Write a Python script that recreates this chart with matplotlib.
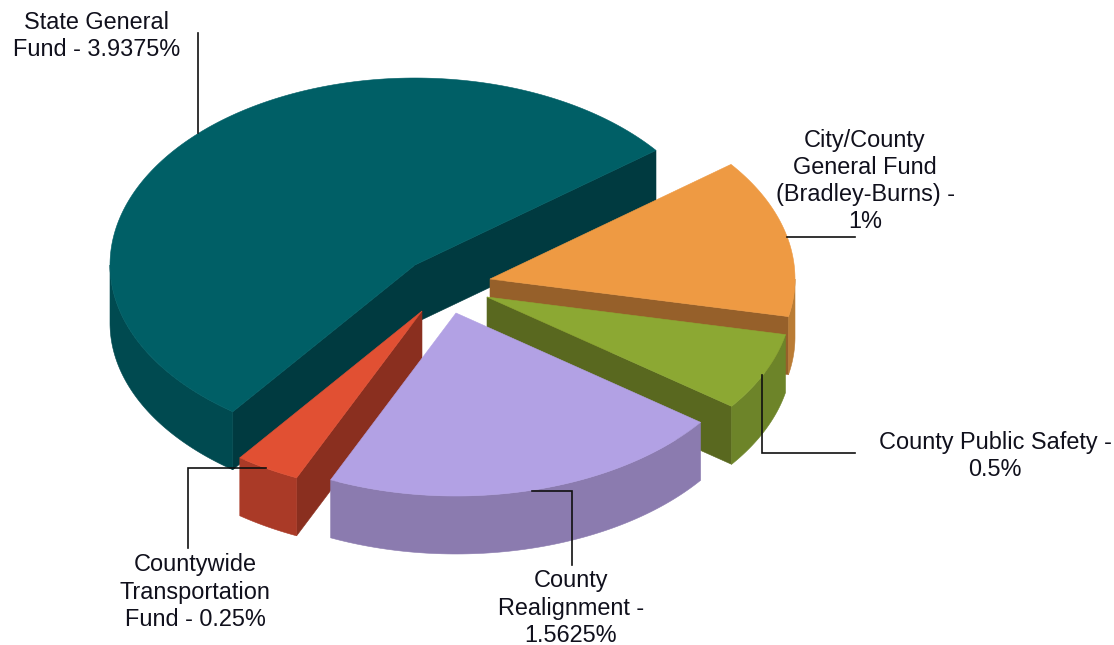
"""
plot.py
Exploded 3D style pie chart, drawn as flat polygons on a pixel sized axes.
"""

import numpy as np
import matplotlib
matplotlib.use("Agg")
import matplotlib.pyplot as plt
from matplotlib.patches import Polygon

NAMES = ["State General Fund", "Countywide Transportation Fund", "County Realignment",
         "County Public Safety", "City/County General Fund (Bradley-Burns)"]
VALUES = [3.9375, 0.25, 1.5625, 0.5, 1.0]

LABELS = ["State General\nFund - 3.9375%",
          "Countywide\nTransportation\nFund - 0.25%",
          "County\nRealignment -\n1.5625%",
          "County Public Safety -\n0.5%",
          "City/County\nGeneral Fund\n(Bradley-Burns) -\n1%"]

TOP_COLORS = ["#005F66", "#E15033", "#B2A1E4", "#8CA833", "#EE9A43"]
WALL_COLORS = ["#004A50", "#AA3A27", "#8B7BAF", "#6D8429", "#BA7C35"]
CUT_COLORS = ["#003A40", "#8A2F1F", "#6F628C", "#59681F", "#96602A"]

# layout, in pixels of the output image
CENTERS = [(415, 265), (422, 311), (456, 313), (487, 297), (490, 279)]
LABEL_POS = [(97, 36), (195, 592), (571, 608), (995, 456), (865, 181)]
LEADERS = [([198, 198], [33, 133]),
           ([266, 188, 188], [468, 468, 548]),
           ([532, 572, 572], [491, 491, 565]),
           ([762, 762, 855], [375, 453, 453]),
           ([787, 855], [237, 237])]
DRAW_ORDER = [0, 4, 3, 1, 2]
RX, RY, RY_FRONT = 305, 187, 183
DEPTH = 58
START_ANGLE = 37.8


def rim(center, angles):
    t = np.radians(angles)
    s = np.sin(t)
    # the near half of the ellipse is a bit flatter than the far half
    return np.column_stack([center[0] + RX * np.cos(t),
                            center[1] - np.where(s < 0, RY_FRONT, RY) * s])


def add_poly(ax, pts, color):
    ax.add_patch(Polygon(pts, closed=True, facecolor=color, edgecolor=color, linewidth=0.4))


def draw_slice(ax, i, a1, a2):
    center = CENTERS[i]
    apex = np.array(center, dtype=float)
    down = np.array([0, DEPTH])

    # cut faces, only the ones turned towards the viewer
    for ang, visible in ((a1, np.cos(np.radians(a1)) > 0), (a2, np.cos(np.radians(a2)) < 0)):
        if visible:
            edge = rim(center, [ang])[0]
            add_poly(ax, [apex, edge, edge + down, apex + down], CUT_COLORS[i])

    # outer wall, front half of the ellipse
    lo, hi = max(a1, 180), min(a2, 360)
    if hi > lo:
        arc = rim(center, np.linspace(lo, hi, 80))
        add_poly(ax, np.vstack([arc, arc[::-1] + down]), WALL_COLORS[i])

    arc = rim(center, np.linspace(a1, a2, 200))
    add_poly(ax, np.vstack([apex, arc]), TOP_COLORS[i])


def main():
    fig = plt.figure(figsize=(11.14, 6.45), dpi=100)
    ax = fig.add_axes([0, 0, 1, 1])
    ax.set_xlim(0, 1114)
    ax.set_ylim(645, 0)
    ax.axis("off")

    spans = np.array(VALUES) / sum(VALUES) * 360
    ends = START_ANGLE + np.cumsum(spans)
    starts = ends - spans

    for i in DRAW_ORDER:
        draw_slice(ax, i, starts[i], ends[i])

    for xs, ys in LEADERS:
        ax.plot(xs, ys, color="#101010", linewidth=1.2, solid_joinstyle="miter")

    for text, (x, y) in zip(LABELS, LABEL_POS):
        ax.text(x, y, text, ha="center", va="center", multialignment="center",
                fontsize=16.9, family="Liberation Sans", color="#10101c", linespacing=1.23)

    fig.savefig("out.png", dpi=100)


if __name__ == "__main__":
    main()
